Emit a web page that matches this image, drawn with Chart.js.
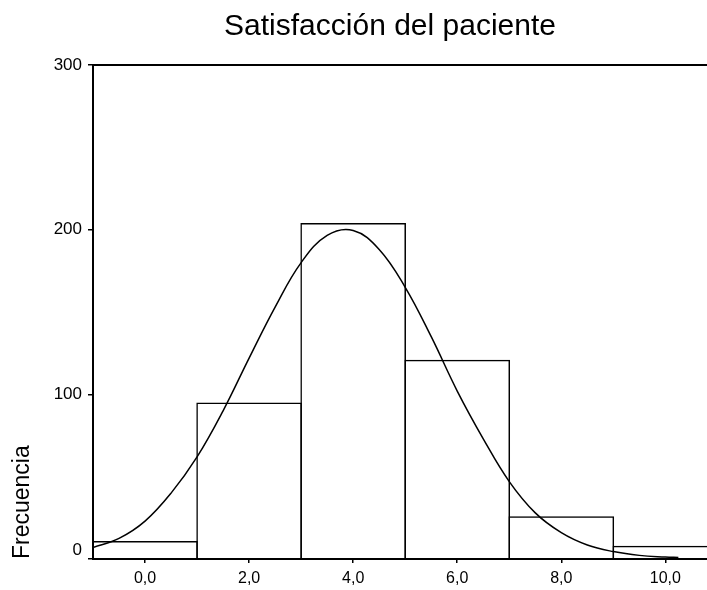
<!DOCTYPE html>
<html><head><meta charset="utf-8">
<script src="https://cdn.jsdelivr.net/npm/chart.js@4/dist/chart.umd.min.js"></script>
<style>html,body{margin:0;padding:0;background:#fff}#wrap{width:707px;height:590px}</style>
</head><body><div id="wrap"><canvas id="c" width="707" height="590"></canvas></div>
<script>
const chartTitle = 'Satisfacción del paciente';
const yAxisTitle = 'Frecuencia';
const binCenters = [0, 2, 4, 6, 8, 10];
const binCounts = [11, 95, 204, 121, 26, 8];
const curveX = [-1, -0.5, 0, 0.5, 1, 1.5, 2, 2.5, 3, 3.5, 4, 4.5, 5, 5.5, 6, 6.5, 7, 7.5, 8, 8.5, 9, 9.5, 10, 10.25];
const curveY = [7, 12.5, 23, 40, 62, 90, 122, 153, 180, 196.5, 199.5, 188, 165, 135, 102, 73, 47, 28, 16, 8.5, 4.5, 2.2, 1.2, 0.9];
const xTickValues = [0, 2, 4, 6, 8, 10];
const xTickLabels = ['0,0', '2,0', '4,0', '6,0', '8,0', '10,0'];
const yTickValues = [0, 100, 200, 300];

const FONT = '"Liberation Sans", Arial, sans-serif';

const frame = {
  id: 'frame',
  afterDraw(chart) {
    const {ctx, chartArea} = chart;
    ctx.save();
    ctx.strokeStyle = '#000';
    ctx.lineWidth = 2;
    ctx.beginPath();
    ctx.moveTo(chartArea.left, chartArea.top);
    ctx.lineTo(chartArea.right, chartArea.top);
    ctx.stroke();
    ctx.font = '30px ' + FONT;
    ctx.fillStyle = '#000';
    ctx.textAlign = 'center';
    ctx.textBaseline = 'alphabetic';
    ctx.fillText(chartTitle, (chartArea.left + chartArea.right) / 2 - 10, 35);
    ctx.restore();
  }
};

new Chart(document.getElementById('c'), {
  type: 'bar',
  data: {
    datasets: [
      {
        type: 'line',
        data: curveX.map((x, i) => ({x, y: curveY[i]})),
        borderColor: '#000',
        borderWidth: 1.5,
        pointRadius: 0,
        fill: false,
        tension: 0.4
      },
      {
        type: 'bar',
        data: binCenters.map((x, i) => ({x, y: binCounts[i]})),
        backgroundColor: 'rgba(0,0,0,0)',
        borderColor: '#000',
        borderWidth: 1.5,
        borderSkipped: 'start',
        barPercentage: 1.015,
        categoryPercentage: 1,
        inflateAmount: 0,
        grouped: false
      }
    ]
  },
  options: {
    responsive: false,
    animation: false,
    devicePixelRatio: 1,
    layout: {padding: {top: 65, left: 0, right: 0, bottom: 0}},
    plugins: {legend: {display: false}, tooltip: {enabled: false}, title: {display: false}},
    scales: {
      x: {
        type: 'linear',
        min: -1,
        max: 10.8,
        offset: false,
        afterBuildTicks: s => { s.ticks = xTickValues.map(v => ({value: v})); },
        ticks: {
          callback: (v, i) => xTickLabels[i],
          color: '#000',
          font: {family: FONT, size: 16},
          padding: 6,
          maxRotation: 0,
          autoSkip: false
        },
        grid: {drawOnChartArea: false, offset: false, tickLength: 4, color: '#000', lineWidth: 1.5},
        border: {color: '#000', width: 2},
        afterFit: s => { s.height = 31; }
      },
      y: {
        min: 0,
        max: 300,
        afterBuildTicks: s => { s.ticks = yTickValues.map(v => ({value: v})); },
        ticks: {
          callback: v => (v === 0 ? ['0', ''] : String(v)),
          color: '#000',
          font: {family: FONT, size: 17, lineHeight: 1.0},
          padding: 6
        },
        grid: {drawOnChartArea: false, tickLength: 5, color: '#000', lineWidth: 1.5},
        border: {color: '#000', width: 2},
        title: {
          display: true,
          text: yAxisTitle,
          align: 'start',
          color: '#000',
          font: {family: FONT, size: 23},
          padding: {top: 9, bottom: 0}
        },
        afterFit: s => { s.width = 93; }
      }
    }
  },
  plugins: [frame]
});
</script>
</body></html>
